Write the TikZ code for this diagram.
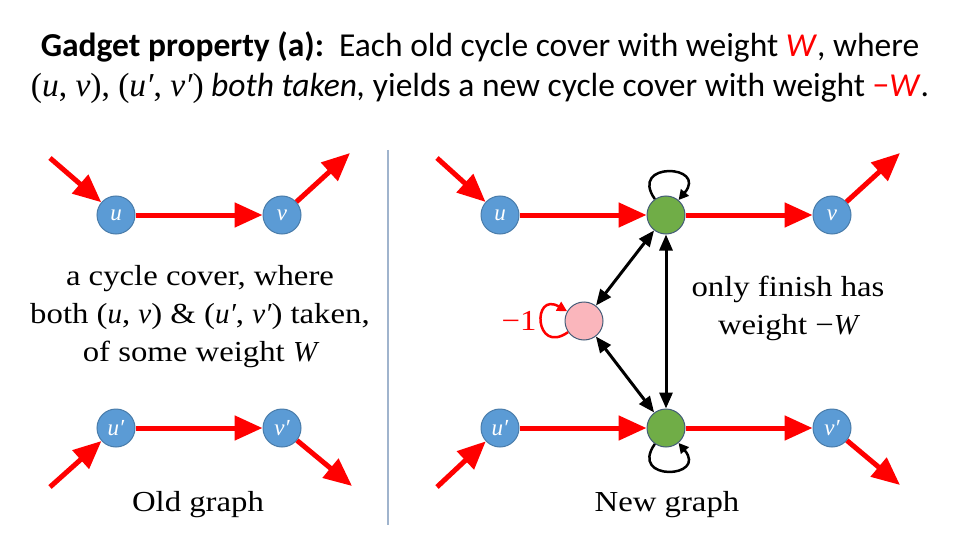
\documentclass[tikz,border=0pt]{standalone}
\usepackage{fontspec}
\setmainfont[FakeStretch=1.13]{Liberation Serif}
\newfontfamily\titlefont{Carlito}
\newfontfamily\varfont{Liberation Serif}
\usetikzlibrary{%
    arrows.meta,%
    positioning
    }
\definecolor{nodeblue}{RGB}{91,155,213}
\definecolor{nodegreen}{RGB}{112,173,71}
\definecolor{nodepink}{RGB}{250,182,188}
\definecolor{rimgray}{RGB}{68,92,120}
\definecolor{divblue}{RGB}{160,180,205}
\definecolor{edgered}{RGB}{255,0,0}
\newcommand{\var}[1]{{\varfont\itshape #1}}
\tikzset{
  vertex/.style={
    circle,
    minimum size=38pt,
    inner sep=0pt,
    line width=1pt,
    draw=nodeblue!80!black,
    fill=nodeblue,
    text=white,
    font=\fontsize{23}{23}\selectfont,
  },
  gadget/.style={
    vertex,
    draw=rimgray,
    fill=nodegreen,
  },
  helper/.style={
    vertex,
    draw=rimgray,
    fill=nodepink,
  },
  caption/.style={
    align=center,
    font=\fontsize{29}{38}\selectfont,
  },
  redarrow/.style={
    -{Triangle[length=28pt,width=24pt]},
    edgered,
    line width=5pt
  },
  bothway/.style={
    {Triangle[length=16pt,width=13pt]}-{Triangle[length=16pt,width=13pt]},
    black,
    line width=3pt
  },
  selfloop/.style={
    -{Triangle[length=10pt,width=10pt]},
    line width=2.5pt,
    looseness=5
  },
  divider/.style={
    divblue,
    line width=1.5pt
  },
}

\begin{document}
\begin{tikzpicture}[node distance=174pt and 127pt]
\useasboundingbox (0,0) rectangle (960pt,-540pt);
\begin{scope}[x=1pt,y=1pt]
% title
\node[align=center, font=\titlefont\fontsize{33.5}{40}\selectfont]
  (title)
  at (480,-68)
  {\textbf{Gadget property (a):}\ \ Each old cycle cover with weight {\color{edgered}\textit{W}}, where\\
   {\varfont(\var{u}, \var{v}), (\var{u′}, \var{v′})} \textit{both taken,} yields a new cycle cover with weight {\color{edgered}−\textit{W}}.};

% old graph
\node[vertex]
  (u)
  at (116,-215)
  {\var{u}};
\node[vertex,right=of u]
  (v)
  {\var{v}};
\node[vertex,below=of u]
  (uprime)
  {\var{u′}};
\node[vertex,right=of uprime]
  (vprime)
  {\var{v′}};
\coordinate (uin) at (50,-158);
\coordinate (vout) at (350,-153);
\coordinate (uprimein) at (50,-487);
\coordinate (vprimeout) at (352,-486);
\node[caption]
  (oldtext)
  at (200,-317)
  {a cycle cover, where\\both (\var{u}, \var{v}) \& (\var{u′}, \var{v′}) taken,\\of some weight \var{W}};
\node[caption]
  (oldname)
  at (198,-505)
  {Old graph};

% divider
\coordinate (divtop) at (388,-150);
\coordinate (divbot) at (388,-525);
\draw[divider] (divtop) -- (divbot);

% new graph
\node[vertex]
  (nu)
  at (500,-215)
  {\var{u}};
\node[gadget,right=of nu]
  (gtop)
  {};
\node[vertex,right=of gtop]
  (nv)
  {\var{v}};
\node[vertex,below=of nu]
  (nuprime)
  {\var{u′}};
\node[gadget,right=of nuprime]
  (gbot)
  {};
\node[vertex,right=of gbot]
  (nvprime)
  {\var{v′}};
\node[helper]
  (mid)
  at (584,-321)
  {};
\coordinate (nuin) at (437,-158);
\coordinate (nvout) at (900,-153);
\coordinate (nuprimein) at (437,-487);
\coordinate (nvprimeout) at (900,-485);
\node[caption,edgered]
  (minus)
  at (519,-321)
  {−1};
\node[caption]
  (finish)
  at (788,-308)
  {only finish has\\weight −\var{W}};
\node[caption]
  (newname)
  at (667,-505)
  {New graph};
\end{scope}

\begin{scope}[redarrow]
\draw (uin) -- (u);
\draw (u) -- (v);
\draw (v) -- (vout);
\draw (uprimein) -- (uprime);
\draw (uprime) -- (vprime);
\draw (vprime) -- (vprimeout);
\draw (nuin) -- (nu);
\draw (nu) -- (gtop);
\draw (gtop) -- (nv);
\draw (nv) -- (nvout);
\draw (nuprimein) -- (nuprime);
\draw (nuprime) -- (gbot);
\draw (gbot) -- (nvprime);
\draw (nvprime) -- (nvprimeout);
\end{scope}

\begin{scope}[bothway]
\draw (mid) -- (gtop);
\draw (mid) -- (gbot);
\draw (gtop) -- (gbot);
\end{scope}

\draw[selfloop] (gtop) to[out=125,in=50] (gtop);
\draw[selfloop] (gbot) to[out=235,in=310] (gbot);
\draw[selfloop,edgered] (mid) to[out=215,in=150] (mid);
\end{tikzpicture}
\end{document}
